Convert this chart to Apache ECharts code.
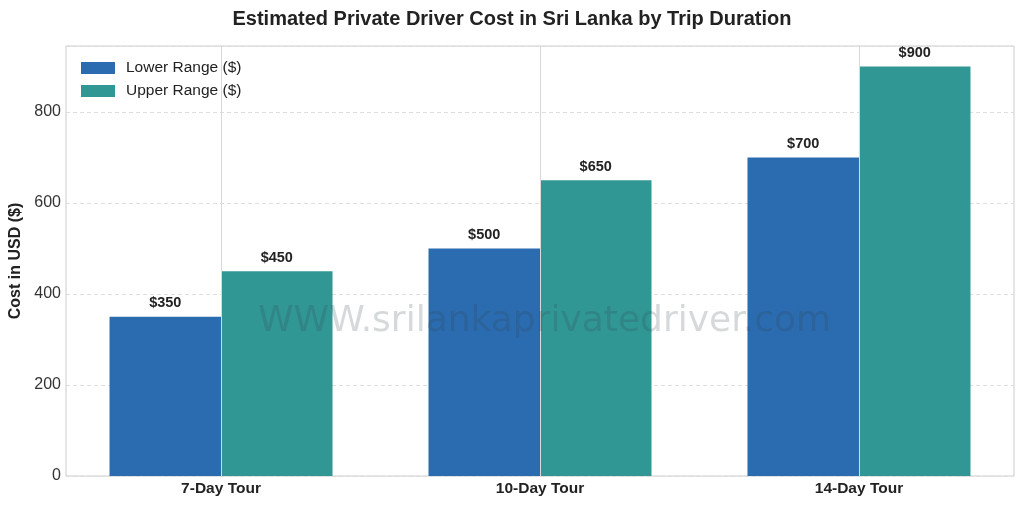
<!DOCTYPE html>
<html>
<head>
<meta charset="utf-8">
<script src="https://cdn.jsdelivr.net/npm/echarts@6/dist/echarts.min.js"></script>
<style>
  html, body { margin: 0; padding: 0; background: #fff; }
  #chart { width: 1024px; height: 507px; }
</style>
</head>
<body>
<div id="chart"></div>
<script>
// trip lengths and price ranges
const categories = ['7-Day Tour', '10-Day Tour', '14-Day Tour']
const lowerRange = [350, 500, 700]
const upperRange = [450, 650, 900]
const yTicks = [0, 200, 400, 600, 800]

const positions = categories.map((c, i) => i)
const font = 'Liberation Sans, Arial, sans-serif'

const chart = echarts.init(document.getElementById('chart'))

const barLabel = {
  show: true,
  position: 'top',
  distance: 6,
  formatter: p => '$' + p.value[1],
  fontSize: 14.5,
  fontWeight: 'bold',
  color: '#222'
}

chart.setOption({
  animation: false,
  textStyle: { fontFamily: font },
  title: {
    text: 'Estimated Private Driver Cost in Sri Lanka by Trip Duration',
    left: 'center',
    top: 4,
    textStyle: { fontSize: 20, fontWeight: 'bold', color: '#222', fontFamily: font }
  },
  legend: {
    orient: 'vertical',
    left: 81,
    top: 60,
    padding: 0,
    itemWidth: 34,
    itemHeight: 12,
    itemGap: 7,
    icon: 'rect',
    textStyle: { fontSize: 15.5, color: '#222', fontFamily: font, padding: [0, 0, 0, 6] },
    data: ['Lower Range ($)', 'Upper Range ($)']
  },
  grid: {
    left: 66,
    right: 10,
    top: 46,
    bottom: 31,
    outerBoundsMode: 'none',
    containLabel: false,
    show: true,
    borderColor: '#cccccc',
    borderWidth: 1
  },
  xAxis: {
    type: 'value',
    min: -0.486,
    max: 2.486,
    axisLine: { show: false },
    axisTick: { show: false, customValues: positions },
    splitLine: { show: false },
    axisLabel: {
      customValues: positions,
      formatter: v => categories[Math.round(v)],
      fontSize: 15.5,
      fontWeight: 'bold',
      color: '#222',
      margin: 5
    }
  },
  yAxis: {
    type: 'value',
    min: 0,
    max: 945,
    interval: 200,
    name: 'Cost in USD ($)',
    nameLocation: 'middle',
    nameGap: 40,
    nameTextStyle: { fontSize: 16, fontWeight: 'bold', color: '#222' },
    axisLine: { show: false },
    axisTick: { show: false },
    axisLabel: {
      fontSize: 16,
      color: '#333',
      margin: 5,
      formatter: v => (yTicks.indexOf(v) >= 0 ? String(v) : '')
    },
    splitLine: { lineStyle: { color: '#dddddd', type: [4, 3], width: 1 } }
  },
  graphic: [
    {
      type: 'text',
      left: 258,
      top: 304,
      z: 100,
      style: {
        text: 'WWW.srilankaprivatedriver.com',
        fontSize: 36,
        fontFamily: 'DejaVu Sans, sans-serif',
        fill: 'rgba(50, 65, 75, 0.2)'
      },
      silent: true
    }
  ],
  series: [
    {
      // carries the vertical grid lines at each trip position
      name: 'grid',
      type: 'line',
      data: [],
      silent: true,
      z: 1,
      markLine: {
        silent: true,
        symbol: 'none',
        label: { show: false },
        lineStyle: { color: '#d9d9d9', type: 'solid', width: 1 },
        data: positions.map(i => ({ xAxis: i }))
      }
    },
    {
      name: 'Lower Range ($)',
      type: 'bar',
      barWidth: 111.5,
      barGap: '0%',
      itemStyle: { color: '#2b6cb0' },
      data: positions.map(i => [i, lowerRange[i]]),
      label: barLabel,
      z: 2
    },
    {
      name: 'Upper Range ($)',
      type: 'bar',
      barWidth: 111.5,
      barGap: '0%',
      itemStyle: { color: '#319795' },
      data: positions.map(i => [i, upperRange[i]]),
      label: barLabel,
      z: 2
    }
  ]
})
</script>
</body>
</html>
